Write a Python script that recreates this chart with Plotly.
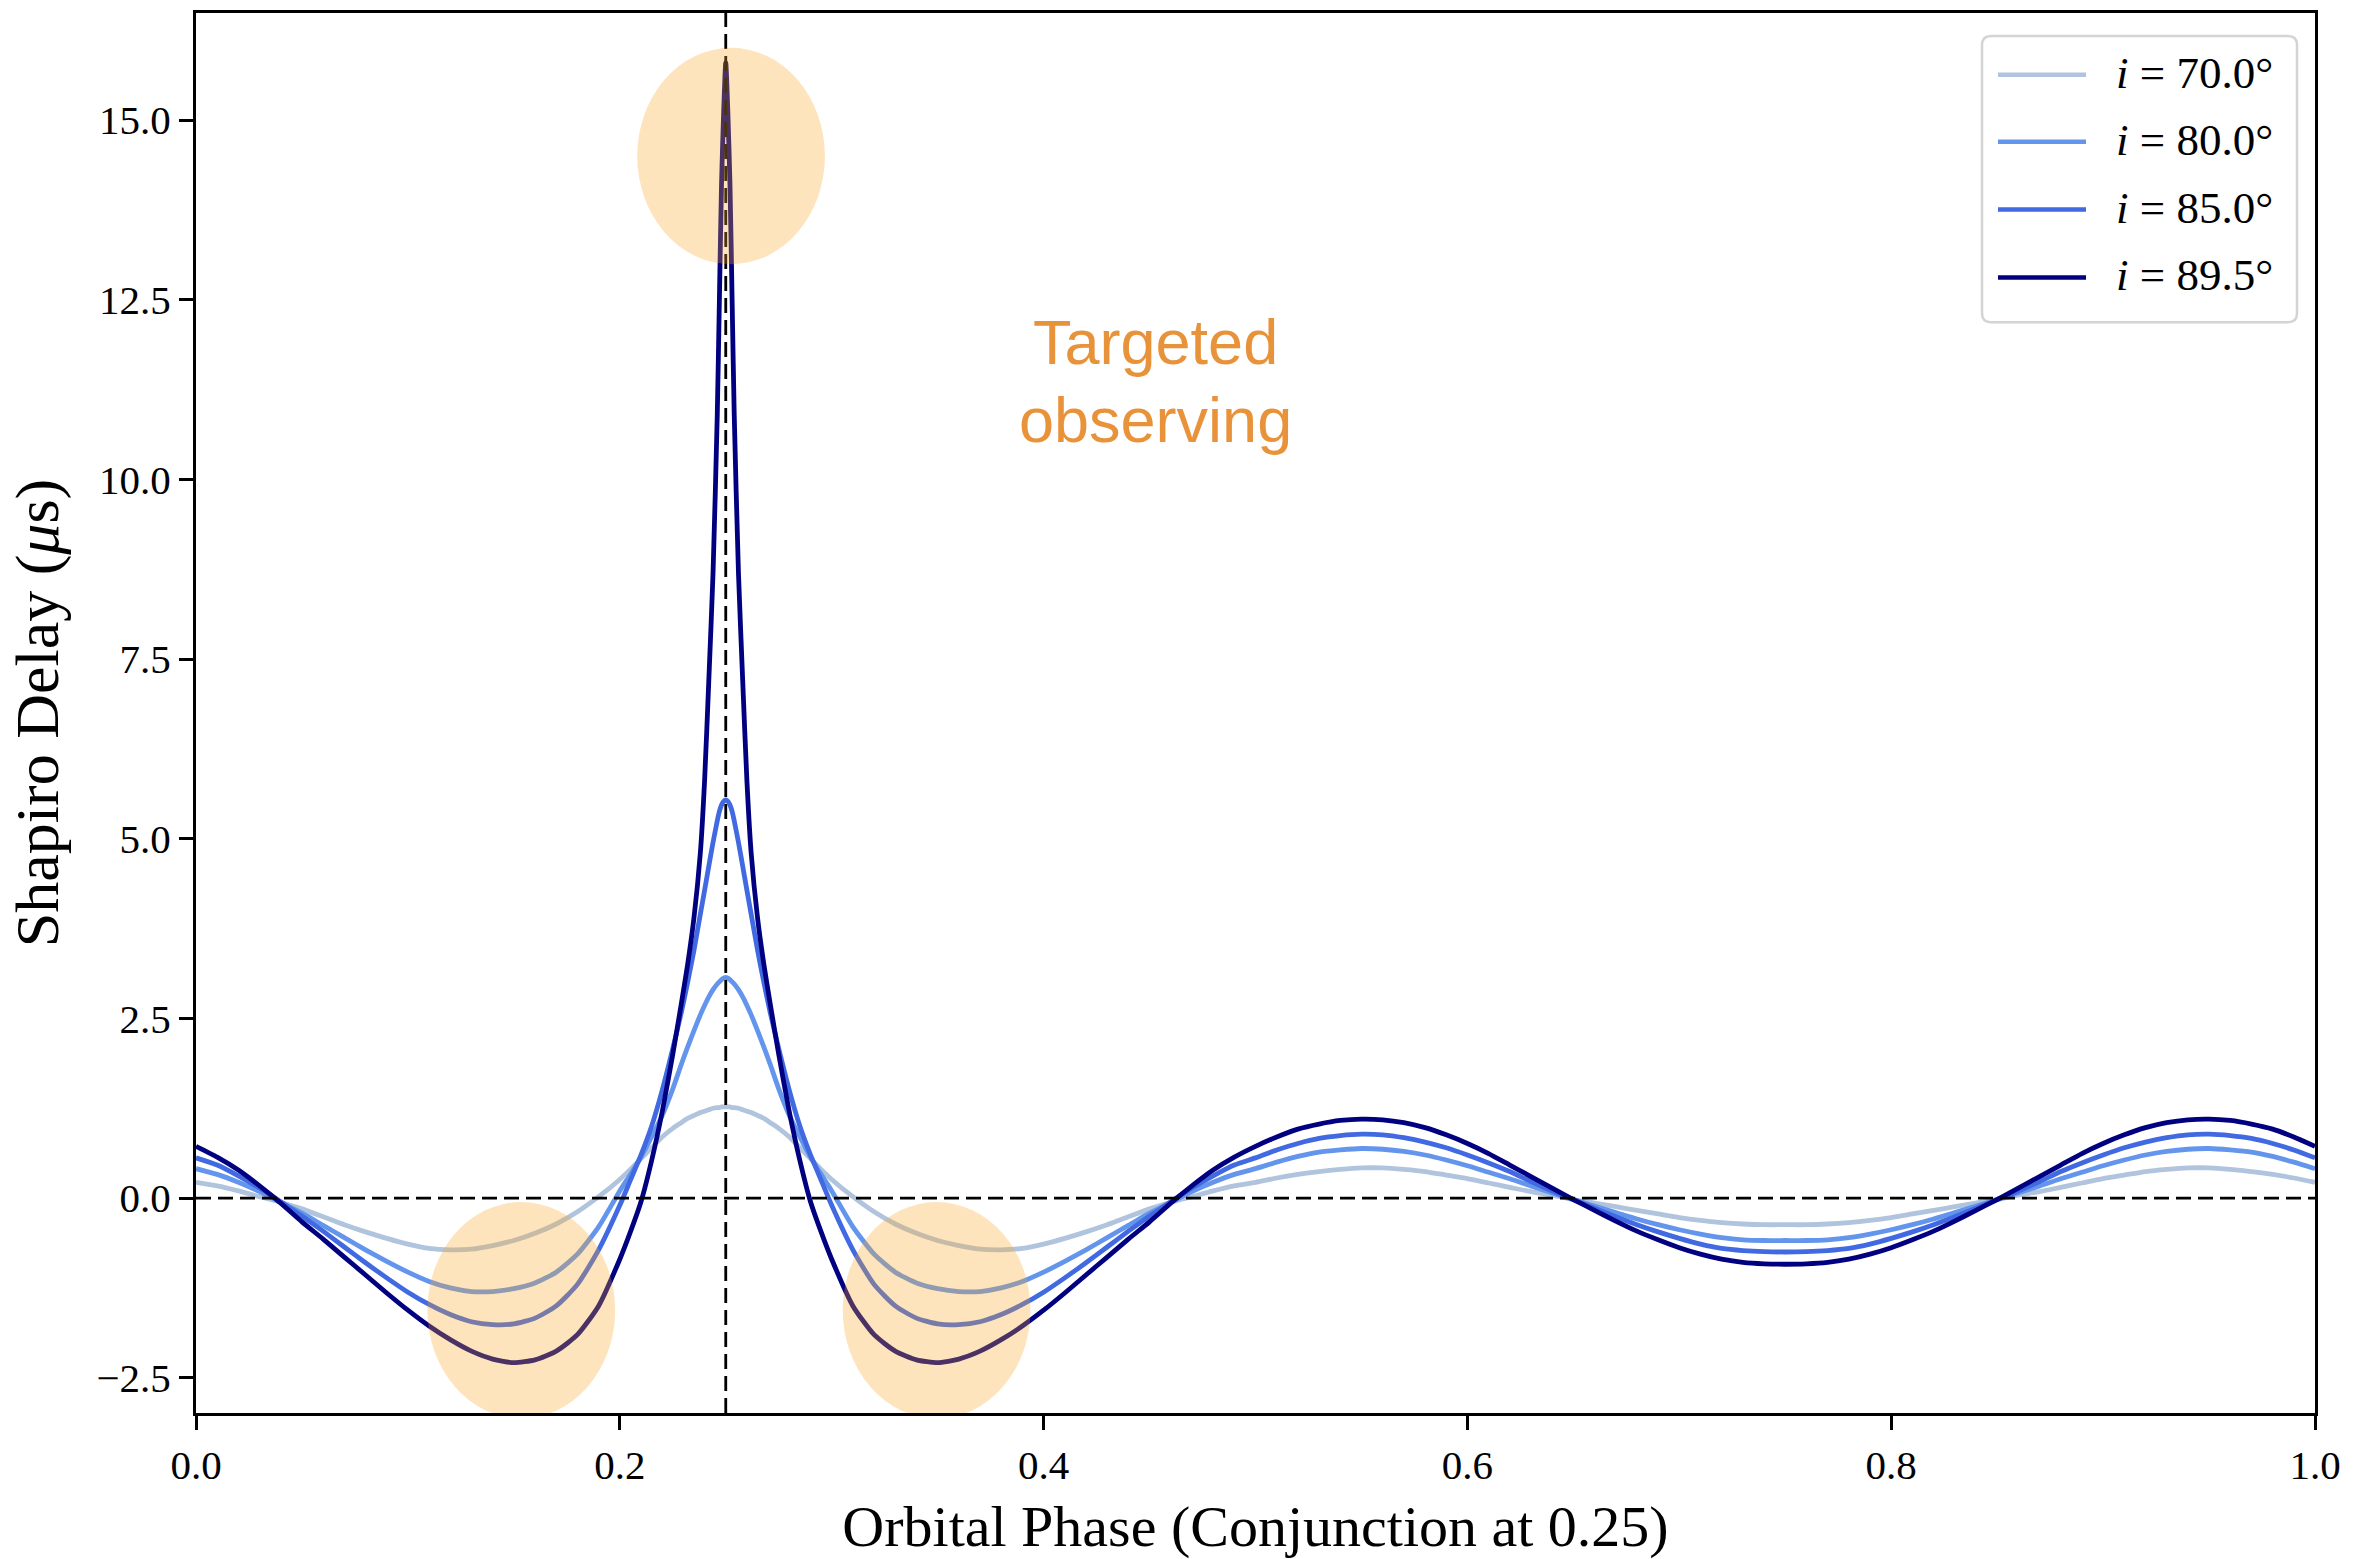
import plotly.graph_objects as go

# ---------------- data ----------------
phase = [0.00, 0.01, 0.02, 0.03, 0.04, 0.05, 0.06, 0.07, 0.08, 0.09,
         0.10, 0.11, 0.12, 0.13, 0.14, 0.15, 0.16, 0.17, 0.18, 0.19,
         0.20, 0.205, 0.21, 0.215, 0.22, 0.225, 0.229, 0.232, 0.235, 0.238,
         0.24, 0.242, 0.244, 0.246, 0.247, 0.248, 0.249, 0.25,
         0.251, 0.252, 0.253, 0.254, 0.256, 0.258, 0.26, 0.262, 0.265, 0.268,
         0.271, 0.275, 0.28, 0.285, 0.29, 0.295, 0.30,
         0.31, 0.32, 0.33, 0.34, 0.35, 0.36, 0.37, 0.38, 0.39, 0.40,
         0.41, 0.42, 0.43, 0.44, 0.45, 0.46, 0.47, 0.48, 0.49, 0.50,
         0.51, 0.52, 0.53, 0.54, 0.55, 0.56, 0.57, 0.58, 0.59, 0.60,
         0.61, 0.62, 0.63, 0.64, 0.65, 0.66, 0.67, 0.68, 0.69, 0.70,
         0.71, 0.72, 0.73, 0.74, 0.75, 0.76, 0.77, 0.78, 0.79, 0.80,
         0.81, 0.82, 0.83, 0.84, 0.85, 0.86, 0.87, 0.88, 0.89, 0.90,
         0.91, 0.92, 0.93, 0.94, 0.95, 0.96, 0.97, 0.98, 0.99, 1.00]

delay_70 = [0.22, 0.17, 0.10, 0.02, -0.06, -0.15, -0.26, -0.37, -0.47, -0.56,
            -0.64, -0.70, -0.72, -0.71, -0.66, -0.59, -0.49, -0.36, -0.19, 0.02,
            0.26, 0.40, 0.55, 0.70, 0.85, 0.97, 1.05, 1.11, 1.15, 1.19,
            1.21, 1.23, 1.25, 1.26, 1.26, 1.27, 1.27, 1.27,
            1.27, 1.27, 1.26, 1.26, 1.25, 1.23, 1.21, 1.19, 1.15, 1.11,
            1.05, 0.97, 0.85, 0.70, 0.55, 0.40, 0.26,
            0.02, -0.19, -0.36, -0.49, -0.59, -0.66, -0.71, -0.72, -0.70, -0.64,
            -0.56, -0.47, -0.37, -0.26, -0.15, -0.06, 0.02, 0.10, 0.17, 0.22,
            0.28, 0.33, 0.37, 0.40, 0.42, 0.42, 0.40, 0.37, 0.32, 0.27,
            0.21, 0.15, 0.09, 0.04, -0.02, -0.07, -0.12, -0.17, -0.22, -0.27,
            -0.31, -0.34, -0.36, -0.37, -0.37, -0.37, -0.36, -0.34, -0.31, -0.27,
            -0.22, -0.17, -0.12, -0.07, -0.02, 0.04, 0.09, 0.15, 0.21, 0.27,
            0.32, 0.37, 0.40, 0.42, 0.42, 0.40, 0.37, 0.33, 0.28, 0.22]

delay_80 = [0.41, 0.33, 0.22, 0.09, -0.06, -0.21, -0.38, -0.55, -0.72, -0.88,
            -1.03, -1.16, -1.25, -1.30, -1.30, -1.26, -1.18, -1.03, -0.78, -0.40,
            0.10, 0.33, 0.57, 0.85, 1.15, 1.52, 1.86, 2.10, 2.33, 2.55,
            2.68, 2.80, 2.90, 2.98, 3.01, 3.04, 3.06, 3.07,
            3.06, 3.04, 3.01, 2.98, 2.90, 2.80, 2.68, 2.55, 2.33, 2.10,
            1.86, 1.52, 1.15, 0.85, 0.57, 0.33, 0.10,
            -0.40, -0.78, -1.03, -1.18, -1.26, -1.30, -1.30, -1.25, -1.16, -1.03,
            -0.88, -0.72, -0.55, -0.38, -0.21, -0.06, 0.09, 0.22, 0.33, 0.41,
            0.50, 0.58, 0.64, 0.67, 0.69, 0.68, 0.65, 0.60, 0.53, 0.45,
            0.36, 0.27, 0.17, 0.07, -0.02, -0.11, -0.20, -0.29, -0.37, -0.44,
            -0.50, -0.55, -0.58, -0.59, -0.59, -0.59, -0.58, -0.55, -0.50, -0.44,
            -0.37, -0.29, -0.20, -0.11, -0.02, 0.07, 0.17, 0.27, 0.36, 0.45,
            0.53, 0.60, 0.65, 0.68, 0.69, 0.67, 0.64, 0.58, 0.50, 0.41]

delay_85 = [0.56, 0.46, 0.31, 0.14, -0.05, -0.25, -0.46, -0.68, -0.90, -1.11,
            -1.31, -1.48, -1.62, -1.72, -1.76, -1.75, -1.67, -1.50, -1.20, -0.72,
            -0.10, 0.25, 0.60, 1.00, 1.50, 2.08, 2.58, 3.00, 3.45, 3.95,
            4.28, 4.62, 4.95, 5.25, 5.38, 5.47, 5.52, 5.54,
            5.52, 5.47, 5.38, 5.25, 4.95, 4.62, 4.28, 3.95, 3.45, 3.00,
            2.58, 2.08, 1.50, 1.00, 0.60, 0.25, -0.10,
            -0.72, -1.20, -1.50, -1.67, -1.75, -1.76, -1.72, -1.62, -1.48, -1.31,
            -1.11, -0.90, -0.68, -0.46, -0.25, -0.05, 0.14, 0.31, 0.46, 0.56,
            0.67, 0.76, 0.83, 0.87, 0.89, 0.88, 0.84, 0.78, 0.70, 0.60,
            0.49, 0.37, 0.23, 0.10, -0.02, -0.14, -0.26, -0.37, -0.47, -0.56,
            -0.64, -0.70, -0.73, -0.745, -0.75, -0.745, -0.73, -0.70, -0.64, -0.56,
            -0.47, -0.37, -0.26, -0.14, -0.02, 0.10, 0.23, 0.37, 0.49, 0.60,
            0.70, 0.78, 0.84, 0.88, 0.89, 0.87, 0.83, 0.76, 0.67, 0.56]

delay_895 = [0.72, 0.57, 0.39, 0.17, -0.07, -0.33, -0.57, -0.82, -1.07, -1.32,
             -1.56, -1.78, -1.97, -2.13, -2.24, -2.29, -2.25, -2.13, -1.90, -1.50,
             -0.85, -0.47, -0.05, 0.52, 1.20, 2.00, 2.70, 3.25, 3.90, 4.80,
             5.80, 7.20, 8.70, 10.90, 12.50, 14.10, 15.10, 15.80,
             15.10, 14.10, 12.50, 10.90, 8.70, 7.20, 5.80, 4.80, 3.90, 3.25,
             2.70, 2.00, 1.20, 0.52, -0.05, -0.47, -0.85,
             -1.50, -1.90, -2.13, -2.25, -2.29, -2.24, -2.13, -1.97, -1.78, -1.56,
             -1.32, -1.07, -0.82, -0.57, -0.33, -0.07, 0.17, 0.39, 0.57, 0.72,
             0.85, 0.96, 1.03, 1.08, 1.10, 1.09, 1.05, 0.98, 0.88, 0.76,
             0.62, 0.46, 0.30, 0.14, -0.02, -0.17, -0.32, -0.46, -0.58, -0.69,
             -0.78, -0.85, -0.895, -0.915, -0.92, -0.915, -0.895, -0.85, -0.78, -0.69,
             -0.58, -0.46, -0.32, -0.17, -0.02, 0.14, 0.30, 0.46, 0.62, 0.76,
             0.88, 0.98, 1.05, 1.09, 1.10, 1.08, 1.03, 0.96, 0.85, 0.72]

series_labels = ["<i>i</i> = 70.0°", "<i>i</i> = 80.0°", "<i>i</i> = 85.0°", "<i>i</i> = 89.5°"]
series_colors = ["#B0C4DE", "#6495ED", "#4169E1", "#000080"]
series_values = [delay_70, delay_80, delay_85, delay_895]

x_ticks = [0.0, 0.2, 0.4, 0.6, 0.8, 1.0]
y_ticks = [-2.5, 0.0, 2.5, 5.0, 7.5, 10.0, 12.5, 15.0]
conjunction_phase = 0.25

x_title = "Orbital Phase (Conjunction at 0.25)"
y_title = "Shapiro Delay (<i>μ</i>s)"
note_lines = ["Targeted", "observing"]

# highlighted regions (centre phase, centre delay)
highlight_phase = [0.1535, 0.2525, 0.3495]
highlight_delay = [-1.56, 14.50, -1.56]

# ---------------- layout geometry (pixels) ----------------
W, H = 2356, 1559
L, R, T, B = 196, 41, 10, 146
PW, PH = W - L - R, H - T - B

def pxx(p):
    return (p - L) / PW

def pxy(p):
    return (T + PH - p) / PH

SERIF = "Liberation Serif"
SANS = "Liberation Sans"

fig = go.Figure()
for lab, col, vals in zip(series_labels, series_colors, series_values):
    fig.add_trace(go.Scatter(
        x=phase, y=vals, mode="lines", name=lab,
        line=dict(color=col, width=4.8, shape="spline", smoothing=0.6),
        showlegend=False, hoverinfo="skip"))

shapes = []
# dashed reference lines
shapes.append(dict(type="line", xref="x", yref="y", x0=0, x1=1, y0=0, y1=0,
                   line=dict(color="black", width=2.8, dash="15px,7px"), layer="above"))
shapes.append(dict(type="line", xref="x", yref="paper", x0=conjunction_phase, x1=conjunction_phase,
                   y0=0, y1=1, line=dict(color="black", width=2.8, dash="15px,7px"), layer="above"))
# highlight ellipses
for cx, cy in zip(highlight_phase, highlight_delay):
    shapes.append(dict(type="circle", xref="x", yref="y",
                       x0=cx - 0.0443, x1=cx + 0.0443, y0=cy - 1.505, y1=cy + 1.505,
                       fillcolor="rgba(250,167,35,0.30)", line=dict(width=0), layer="above"))

# custom legend box (rounded)
bx0, bx1, by0, by1 = pxx(1982), pxx(2297), pxy(320), pxy(33)
rx, ry = 9 / PW, 9 / PH
path = (f"M{bx0+rx},{by1} L{bx1-rx},{by1} Q{bx1},{by1} {bx1},{by1-ry} "
        f"L{bx1},{by0+ry} Q{bx1},{by0} {bx1-rx},{by0} L{bx0+rx},{by0} "
        f"Q{bx0},{by0} {bx0},{by0+ry} L{bx0},{by1-ry} Q{bx0},{by1} {bx0+rx},{by1} Z")
shapes.append(dict(type="path", xref="paper", yref="paper", path=path,
                   fillcolor="rgba(255,255,255,0.85)", line=dict(color="#d4d4d4", width=2.5),
                   layer="above"))

row_y = [72, 139, 207, 275]
annotations = []
for lab, col, ry_px in zip(series_labels, series_colors, row_y):
    shapes.append(dict(type="line", xref="paper", yref="paper",
                       x0=pxx(1998), x1=pxx(2086), y0=pxy(ry_px), y1=pxy(ry_px),
                       line=dict(color=col, width=4.5), layer="above"))
    annotations.append(dict(xref="paper", yref="paper", x=pxx(2114), y=pxy(ry_px - 2),
                            xanchor="left", yanchor="middle", showarrow=False, text=lab,
                            font=dict(family=SERIF, size=45, color="black")))

for txt, yv in zip(note_lines, [11.91, 10.83]):
    annotations.append(dict(xref="x", yref="y", x=0.4526, y=yv, text=txt,
                            showarrow=False, xanchor="center", yanchor="middle",
                            font=dict(family=SANS, size=63, color="#E8923A")))

axis_common = dict(showgrid=False, zeroline=False, showline=True, mirror=True,
                   linecolor="black", linewidth=3, ticks="outside", ticklen=14,
                   tickwidth=2.5, tickcolor="black",
                   tickfont=dict(family=SERIF, size=41, color="black"))

fig.update_layout(
    width=W, height=H,
    margin=dict(l=L, r=R, t=T, b=B),
    paper_bgcolor="white", plot_bgcolor="white",
    shapes=shapes, annotations=annotations,
    xaxis=dict(range=[0, 1], tickvals=x_ticks, tickformat=".1f",
               title=dict(text=x_title, font=dict(family=SERIF, size=58, color="black"), standoff=20),
               **axis_common),
    yaxis=dict(range=[-2.99, 16.49], tickvals=y_ticks, tickformat=".1f",
               title=dict(text=y_title, font=dict(family=SERIF, size=62, color="black"), standoff=18),
               **axis_common),
)

fig.write_html("out.html")
